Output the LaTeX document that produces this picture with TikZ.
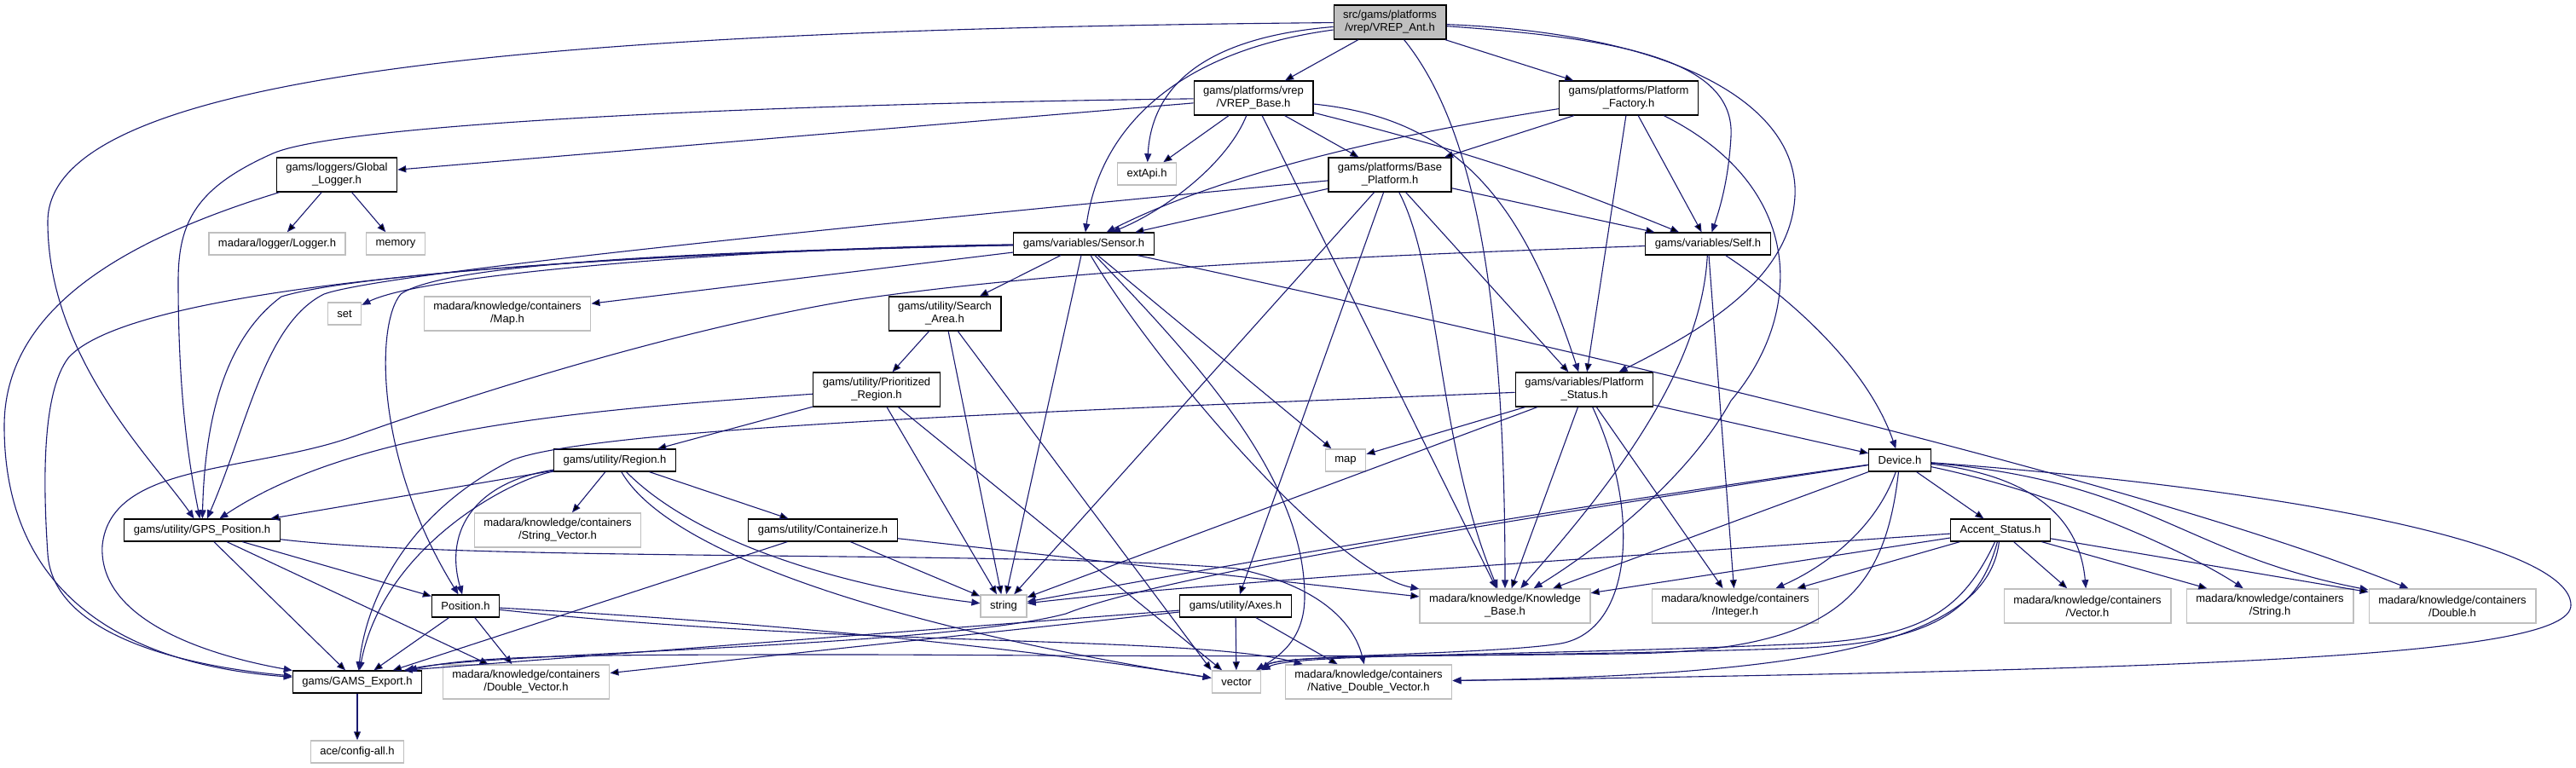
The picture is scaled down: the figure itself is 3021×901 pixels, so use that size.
\documentclass[tikz,border=0pt]{standalone}
\usepackage{fontspec}
\setmainfont{Liberation Sans}
\usepackage{tikz}
\usetikzlibrary{arrows.meta}
\definecolor{edgeblue}{HTML}{191970}
\definecolor{greyfill}{HTML}{BFBFBF}

\begin{document}
\begin{tikzpicture}[node distance={82pt}, x=1pt, y=-1pt,
  file/.style = {draw=black, line width=1.2pt, fill=white, font=\fontsize{13}{15}\selectfont, align=center, inner xsep=11pt, inner ysep=0pt, minimum height=26pt},
  sys/.style = {file, draw=greyfill, line width=1.5pt},
  tall/.style = {minimum height=40pt},
  uses/.style = {draw=edgeblue, line width=1.1pt, -{Triangle[length=10pt,width=8pt]}}]
\fill[white] (0,0) rectangle (3021,901);
\useasboundingbox (0,0) rectangle (3021,901);

\node[file, tall, fill=greyfill] (VREPAnt) at (1630,26) {src/gams/platforms\\/vrep/VREP\_Ant.h};
\node[file, tall] (VREPBase) at (1470,115) {gams/platforms/vrep\\/VREP\_Base.h};
\node[file, tall] (PlatformFactory) at (1910,115) {gams/platforms/Platform\\\_Factory.h};
\node[sys] (extApi) at (1345,204) {extApi.h};
\node[file, tall] (GlobalLogger) at (395,205) {gams/loggers/Global\\\_Logger.h};
\node[file, tall] (BasePlatform) at (1630,205) {gams/platforms/Base\\\_Platform.h};
\node[sys] (Logger) at (325,286) {madara/logger/Logger.h};
\node[sys] (memory) at (464,286) {memory};
\node[file] (Sensor) at (1271,286) {gams/variables/Sensor.h};
\node[file] (Self) at (2003,286) {gams/variables/Self.h};
\node[sys] (set) at (404,368) {set};
\node[sys, tall] (Map) at (595,368) {madara/knowledge/containers\\/Map.h};
\node[file, tall] (SearchArea) at (1108,368) {gams/utility/Search\\\_Area.h};
\node[file, tall] (PrioritizedRegion) at (1028,457) {gams/utility/Prioritized\\\_Region.h};
\node[file, tall] (PlatformStatus) at (1858,457) {gams/variables/Platform\\\_Status.h};
\node[sys] (map) at (1578,540) {map};
\node[file] (Device) at (2228,540) {Device.h};
\node[file] (Region) at (721,540) {gams/utility/Region.h};
\node[file] (GPSPosition) at (237,622) {gams/utility/GPS\_Position.h};
\node[sys, tall] (StringVector) at (654,622) {madara/knowledge/containers\\/String\_Vector.h};
\node[file] (Containerize) at (965,622) {gams/utility/Containerize.h};
\node[file] (AccentStatus) at (2346,622) {Accent\_Status.h};
\node[file] (Position) at (546,711) {Position.h};
\node[sys] (string) at (1177,711) {string};
\node[file] (Axes) at (1449,711) {gams/utility/Axes.h};
\node[sys, tall] (KnowledgeBase) at (1765,711) {madara/knowledge/Knowledge\\\_Base.h};
\node[sys, tall] (Integer) at (2035,711) {madara/knowledge/containers\\/Integer.h};
\node[sys, tall] (Vector) at (2448,711) {madara/knowledge/containers\\/Vector.h};
\node[sys, tall] (String) at (2662,711) {madara/knowledge/containers\\/String.h};
\node[sys, tall] (Double) at (2876,711) {madara/knowledge/containers\\/Double.h};
\node[file] (GAMSExport) at (419,800) {gams/GAMS\_Export.h};
\node[sys, tall] (DoubleVector) at (617,800) {madara/knowledge/containers\\/Double\_Vector.h};
\node[sys] (vector) at (1450,800) {vector};
\node[sys, tall] (NativeDoubleVector) at (1605,800) {madara/knowledge/containers\\/Native\_Double\_Vector.h};
\node[sys] (configall) [below of=GAMSExport] {ace/config-all.h};

% VREP_Ant.h
\path[uses] (VREPAnt) edge (VREPBase);
\path[uses] (VREPAnt) edge (PlatformFactory);
\draw[uses] (VREPAnt) .. controls (1400,45) and (1350,110) .. (extApi);
\draw[uses] (VREPAnt) .. controls (1380,60) and (1290,150) .. (Sensor);
\draw[uses] (VREPAnt) .. controls (1730,150) and (1765,350) .. (KnowledgeBase);
\draw[uses] (VREPAnt) .. controls (600,35) and (56,90) .. (56,260) .. controls (56,420) and (180,540) .. (GPSPosition);
\draw[uses] (VREPAnt) .. controls (1900,45) and (2035,70) .. (2030,160) .. controls (2027,215) and (2015,250) .. (Self);
\draw[uses] (VREPAnt) .. controls (1980,40) and (2110,130) .. (2105,230) .. controls (2100,330) and (1990,390) .. (PlatformStatus);

% VREP_Base.h
\path[uses] (VREPBase) edge (GlobalLogger);
\draw[uses] (VREPBase) .. controls (900,122) and (400,145) .. (320,180) .. controls (230,220) and (209,260) .. (209,330) .. controls (209,480) and (225,560) .. (GPSPosition);
\path[uses] (VREPBase) edge (extApi);
\draw[uses] (VREPBase) .. controls (1440,190) and (1370,245) .. (Sensor);
\path[uses] (VREPBase) edge (KnowledgeBase);
\path[uses] (VREPBase) edge (BasePlatform);
\draw[uses] (VREPBase) .. controls (1720,140) and (1790,250) .. (PlatformStatus);
\path[uses] (VREPBase) edge[bend left=4] (Self);

% Platform_Factory.h
\draw[uses] (PlatformFactory) .. controls (1650,155) and (1440,200) .. (Sensor);
\path[uses] (PlatformFactory) edge (BasePlatform);
\path[uses] (PlatformFactory) edge (PlatformStatus);
\path[uses] (PlatformFactory) edge (Self);
\draw[uses] (PlatformFactory) .. controls (2120,220) and (2115,370) .. (2030,470) .. controls (1980,560) and (1880,640) .. (KnowledgeBase);

% Base_Platform.h
\draw[uses] (BasePlatform) .. controls (1000,265) and (450,320) .. (380,345) .. controls (310,380) and (290,500) .. (GPSPosition);
\path[uses] (BasePlatform) edge (Sensor);
\path[uses] (BasePlatform) edge (string);
\path[uses] (BasePlatform) edge (Axes);
\draw[uses] (BasePlatform) .. controls (1690,320) and (1685,520) .. (KnowledgeBase);
\path[uses] (BasePlatform) edge (PlatformStatus);
\path[uses] (BasePlatform) edge (Self);

% Sensor.h
\draw[uses] (Sensor) .. controls (900,290) and (500,320) .. (set);
\path[uses] (Sensor) edge (Map);
\draw[uses] (Sensor) .. controls (800,295) and (520,310) .. (470,345) .. controls (440,380) and (440,540) .. (Position);
\draw[uses] (Sensor) .. controls (800,295) and (420,320) .. (330,348) .. controls (260,400) and (240,500) .. (GPSPosition);
\draw[uses] (Sensor) .. controls (600,300) and (150,340) .. (80,420) .. controls (50,460) and (50,560) .. (56,650) .. controls (62,740) and (200,780) .. (GAMSExport);
\path[uses] (Sensor) edge (SearchArea);
\path[uses] (Sensor) edge (string);
\draw[uses] (Sensor) .. controls (1350,420) and (1560,670) .. (KnowledgeBase);
\draw[uses] (Sensor) .. controls (1400,420) and (1530,560) .. (1530,700) .. controls (1530,750) and (1500,770) .. (vector);
\path[uses] (Sensor) edge (map);
\draw[uses] (Sensor) .. controls (1800,400) and (2500,560) .. (Double);

% Self.h
\draw[uses] (Self) .. controls (1600,300) and (1250,315) .. (1000,352) .. controls (800,385) and (560,460) .. (420,510) .. controls (300,555) and (130,540) .. (120,640) .. controls (115,730) and (250,770) .. (GAMSExport);
\path[uses] (Self) edge (Integer);
\draw[uses] (Self) .. controls (2100,350) and (2190,430) .. (Device);
\draw[uses] (Self) .. controls (1995,440) and (1880,580) .. (KnowledgeBase);

% Search_Area.h, Prioritized_Region.h
\path[uses] (SearchArea) edge (PrioritizedRegion);
\path[uses] (SearchArea) edge (string);
\path[uses] (SearchArea) edge (vector.north west);
\draw[uses] (PrioritizedRegion) .. controls (700,480) and (420,500) .. (GPSPosition);
\path[uses] (PrioritizedRegion) edge (Region);
\path[uses] (PrioritizedRegion) edge (string);
\path[uses] (PrioritizedRegion) edge (vector);

% Platform_Status.h
\draw[uses] (PlatformStatus) .. controls (1300,480) and (700,500) .. (600,540) .. controls (480,600) and (430,700) .. (GAMSExport);
\path[uses] (PlatformStatus) edge (map);
\path[uses] (PlatformStatus) edge (string);
\path[uses] (PlatformStatus) edge (KnowledgeBase);
\draw[uses] (PlatformStatus) .. controls (1925,600) and (1915,740) .. (1830,755) .. controls (1750,768) and (1500,768) .. (vector.north east);
\path[uses] (PlatformStatus) edge (Integer);
\path[uses] (PlatformStatus) edge (Device);

% Region.h
\draw[uses] (Region) .. controls (600,562) and (450,640) .. (GAMSExport);
\draw[uses] (Region) .. controls (560,565) and (520,620) .. (Position);
\path[uses] (Region) edge (GPSPosition);
\path[uses] (Region) edge (StringVector);
\draw[uses] (Region) .. controls (820,640) and (1000,690) .. (string);
\draw[uses] (Region) .. controls (790,660) and (1100,745) .. (vector);
\path[uses] (Region) edge (Containerize);

% Containerize.h, GPS_Position.h, Position.h
\path[uses] (Containerize) edge (GAMSExport);
\path[uses] (Containerize) edge (string);
\path[uses] (Containerize) edge (KnowledgeBase);
\path[uses] (GPSPosition) edge (GAMSExport);
\path[uses] (GPSPosition) edge (DoubleVector);
\path[uses] (GPSPosition) edge (Position);
\draw[uses] (GPSPosition) .. controls (560,660) and (1200,645) .. (1450,667) .. controls (1560,690) and (1590,740) .. (NativeDoubleVector);
\path[uses] (Position) edge (GAMSExport);
\path[uses] (Position) edge (DoubleVector);
\draw[uses] (Position) .. controls (900,730) and (1200,760) .. (vector);
\draw[uses] (Position) .. controls (1000,760) and (1400,745) .. (NativeDoubleVector);

% Axes.h, GAMS_Export.h, Global_Logger.h
\path[uses] (Axes) edge (GAMSExport.14);
\path[uses] (Axes) edge (DoubleVector);
\path[uses] (Axes) edge (vector);
\path[uses] (Axes) edge (NativeDoubleVector);
\path[uses] (GAMSExport) edge (configall);
\path[uses] (GlobalLogger) edge (Logger);
\path[uses] (GlobalLogger) edge (memory);
\draw[uses] (GlobalLogger) .. controls (150,280) and (5,360) .. (5,500) .. controls (5,700) and (150,780) .. (GAMSExport);

% Device.h
\draw[uses] (Device) .. controls (1800,600) and (1400,670) .. (string);
\draw[uses] (Device) .. controls (1700,620) and (1350,680) .. (1250,720) .. controls (1100,760) and (560,766) .. (GAMSExport);
\path[uses] (Device) edge (KnowledgeBase);
\draw[uses] (Device) .. controls (2200,620) and (2140,665) .. (Integer);
\draw[uses] (Device) .. controls (2210,700) and (2150,765) .. (1900,767) .. controls (1700,770) and (1500,768) .. (vector.north east);
\path[uses] (Device) edge (AccentStatus);
\draw[uses] (Device) .. controls (2400,560) and (2440,620) .. (Vector);
\draw[uses] (Device) .. controls (2420,580) and (2570,650) .. (String);
\draw[uses] (Device) .. controls (2520,565) and (2560,650) .. (Double);
\draw[uses] (Device) .. controls (2700,575) and (3015,640) .. (3015,710) .. controls (3015,770) and (2600,785) .. (NativeDoubleVector);

% Accent_Status.h
\draw[uses] (AccentStatus) .. controls (1800,660) and (1400,685) .. (string);
\path[uses] (AccentStatus) edge (KnowledgeBase);
\path[uses] (AccentStatus) edge (Integer);
\draw[uses] (AccentStatus) .. controls (2300,720) and (2250,748) .. (2120,755) .. controls (1800,770) and (1520,766) .. (vector.north east);
\draw[uses] (AccentStatus) .. controls (2320,720) and (2260,752) .. (2120,760) .. controls (1700,775) and (1200,768) .. (1000,768) .. controls (700,768) and (560,768) .. (GAMSExport);
\draw[uses] (AccentStatus) .. controls (2330,760) and (2100,792) .. (NativeDoubleVector);
\path[uses] (AccentStatus) edge (Vector);
\path[uses] (AccentStatus) edge (String);
\path[uses] (AccentStatus) edge (Double);
\end{tikzpicture}
\end{document}
